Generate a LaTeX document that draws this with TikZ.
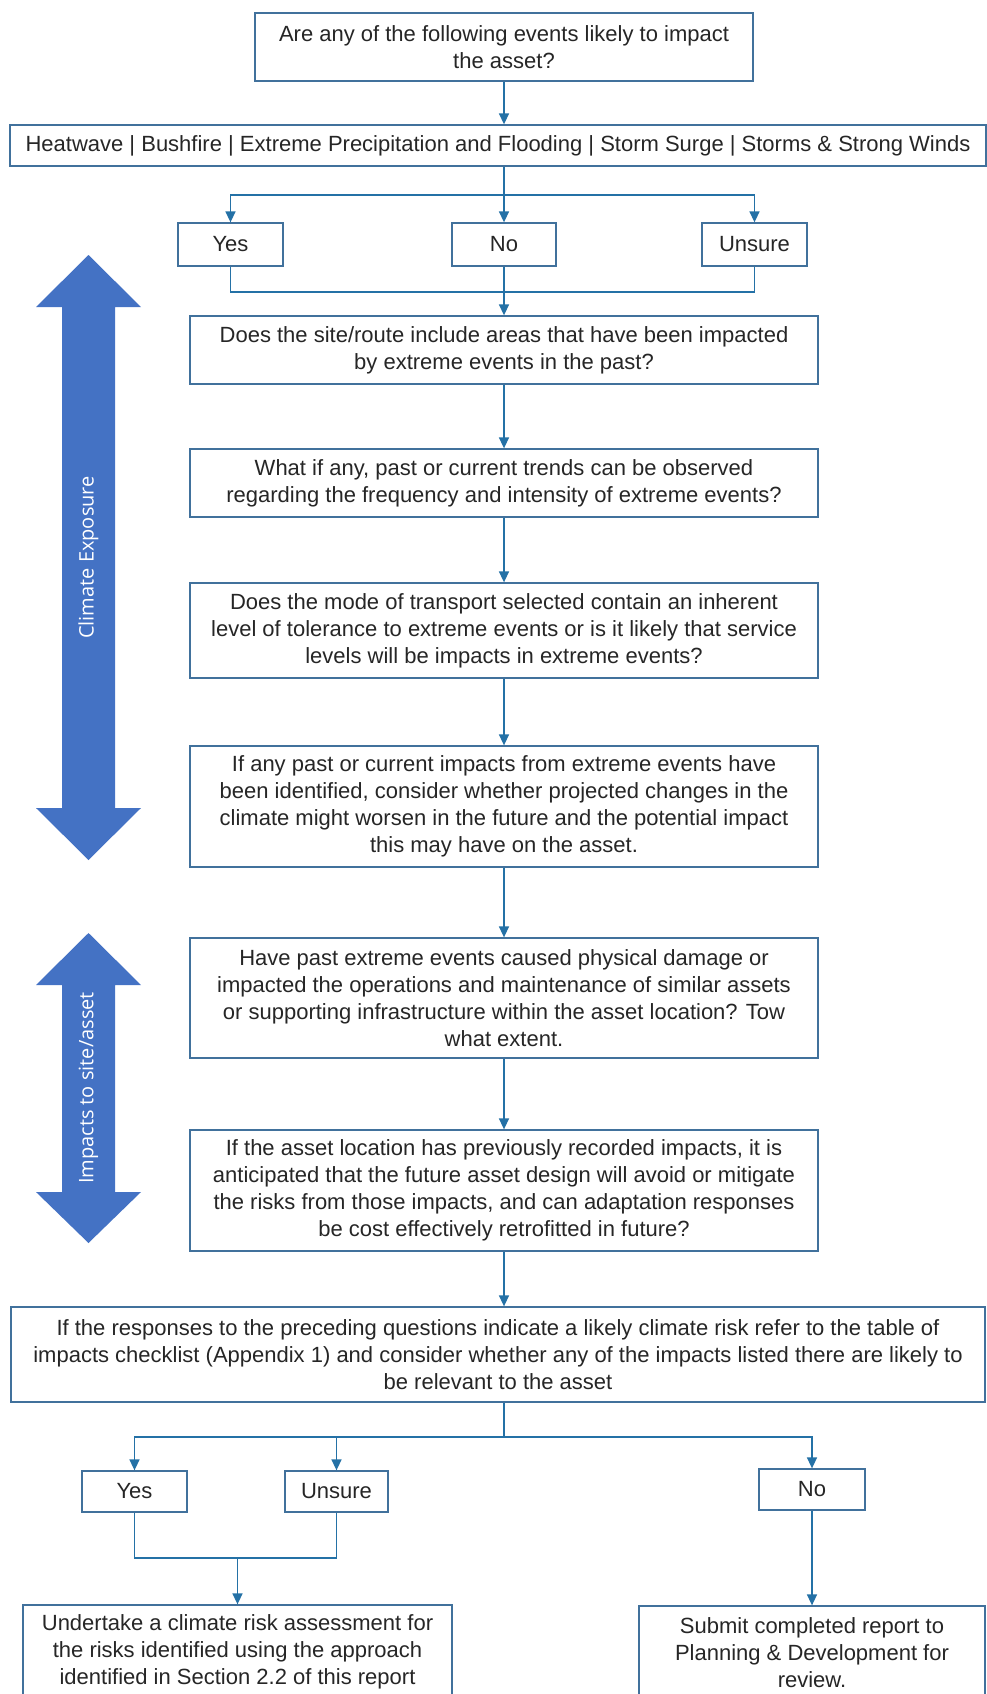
\documentclass[tikz,border=0pt]{standalone}
\usepackage{fontspec}
\setmainfont{Liberation Sans}
\newfontfamily\bandfont{Open Sans}
\usetikzlibrary{arrows.meta}
\definecolor{boxline}{RGB}{65,113,156}
\definecolor{flowblue}{RGB}{36,113,166}
\definecolor{bandblue}{RGB}{68,114,196}
\definecolor{txtgrey}{RGB}{38,38,38}
\begin{document}
\begin{tikzpicture}[x=1pt,y=-1pt,
  qbox/.style={draw=boxline,line width=1.3pt,fill=white,align=center,inner sep=0pt,text=txtgrey,font=\fontsize{22}{27}\selectfont},
  flow/.style={draw=flowblue,line width=1.5pt},
  bandtext/.style={rotate=90,text=white,font=\bandfont\fontsize{20}{24}\selectfont},
  >={Triangle[length=11pt,width=10pt]}]
\useasboundingbox (0,0) rectangle (987,1694);
% side bands
\fill[bandblue] (88.5,255) -- (141,307) -- (115,307) -- (115,808) -- (141,808) -- (88.5,860) -- (36,808) -- (62,808) -- (62,307) -- (36,307) -- cycle;
\node[bandtext] (climate) at (88.5,557.5) {Climate Exposure};
\fill[bandblue] (88.5,933) -- (141,985) -- (115,985) -- (115,1192) -- (141,1192) -- (88.5,1243) -- (36,1192) -- (62,1192) -- (62,985) -- (36,985) -- cycle;
\node[bandtext] (impacts) at (88.5,1088) {Impacts to site/asset};
% boxes
\node[qbox,minimum width=498pt,minimum height=68pt] (q0) at (504,47) {Are any of the following events likely to impact\\the asset?};
\node[qbox,minimum width=976pt,minimum height=41pt] (events) at (498,145.5) {Heatwave | Bushfire | Extreme Precipitation and Flooding | Storm Surge | Storms \& Strong Winds};
\node[qbox,minimum width=105pt,minimum height=43pt] (yes1) at (230.5,244.5) {Yes};
\node[qbox,minimum width=104pt,minimum height=43pt] (no1) at (504,244.5) {No};
\node[qbox,minimum width=105pt,minimum height=43pt] (unsure1) at (754.5,244.5) {Unsure};
\node[qbox,minimum width=628pt,minimum height=68pt] (q1) at (504,350) {Does the site/route include areas that have been impacted\\by extreme events in the past?};
\node[qbox,minimum width=628pt,minimum height=68pt] (q2) at (504,483) {What if any, past or current trends can be observed\\regarding the frequency and intensity of extreme events?};
\node[qbox,minimum width=628pt,minimum height=95pt] (q3) at (504,630.5) {Does the mode of transport selected contain an inherent\\level of tolerance to extreme events or is it likely that service\\levels will be impacts in extreme events?};
\node[qbox,minimum width=628pt,minimum height=121pt] (q4) at (504,806.5) {If any past or current impacts from extreme events have\\been identified, consider whether projected changes in the\\climate might worsen in the future and the potential impact\\this may have on the asset.};
\node[qbox,minimum width=628pt,minimum height=120pt] (q5) at (504,998) {Have past extreme events caused physical damage or\\impacted the operations and maintenance of similar assets\\or supporting infrastructure within the asset location? Tow\\what extent.};
\node[qbox,minimum width=628pt,minimum height=121pt] (q6) at (504,1190.5) {If the asset location has previously recorded impacts, it is\\anticipated that the future asset design will avoid or mitigate\\the risks from those impacts, and can adaptation responses\\be cost effectively retrofitted in future?};
\node[qbox,minimum width=974pt,minimum height=95pt] (q7) at (498,1354.5) {If the responses to the preceding questions indicate a likely climate risk refer to the table of\\impacts checklist (Appendix 1) and consider whether any of the impacts listed there are likely to\\be relevant to the asset};
\node[qbox,minimum width=105pt,minimum height=41pt] (yes2) at (134.5,1491.5) {Yes};
\node[qbox,minimum width=103pt,minimum height=41pt] (unsure2) at (336.5,1491.5) {Unsure};
\node[qbox,minimum width=106pt,minimum height=41pt] (no2) at (812,1489.5) {No};
\node[qbox,minimum width=429pt,minimum height=94pt] (assess) at (237.5,1652) {Undertake a climate risk assessment for\\the risks identified using the approach\\identified in Section 2.2 of this report};
\node[qbox,minimum width=346pt,minimum height=94pt] (submit) at (812,1653) {Submit completed report to\\Planning \& Development for\\review.};
% branch points
\coordinate (br1) at (504,195);
\coordinate (jn1) at (504,292);
\coordinate (br2) at (504,1437);
\coordinate (jn2) at (237.5,1558);
% connectors
\draw[flow,->] (q0) -- (q0 |- events.north);
\draw[flow] (events.south -| br1) -- (br1);
\draw[flow,->] (br1) -| (yes1);
\draw[flow,->] (br1) -- (no1);
\draw[flow,->] (br1) -| (unsure1);
\draw[flow] (yes1) |- (jn1);
\draw[flow] (unsure1) |- (jn1);
\draw[flow] (no1) -- (jn1);
\draw[flow,->] (jn1) -- (q1);
\draw[flow,->] (q1) -- (q2);
\draw[flow,->] (q2) -- (q3);
\draw[flow,->] (q3) -- (q4);
\draw[flow,->] (q4) -- (q5);
\draw[flow,->] (q5) -- (q6);
\draw[flow,->] (q6) -- (q6 |- q7.north);
\draw[flow] (q7.south -| br2) -- (br2);
\draw[flow,->] (br2) -| (yes2);
\draw[flow,->] (br2) -| (unsure2);
\draw[flow,->] (br2) -| (no2);
\draw[flow] (yes2) |- (jn2);
\draw[flow] (unsure2) |- (jn2);
\draw[flow,->] (jn2) -- (assess);
\draw[flow,->] (no2) -- (submit);
\end{tikzpicture}
\end{document}
